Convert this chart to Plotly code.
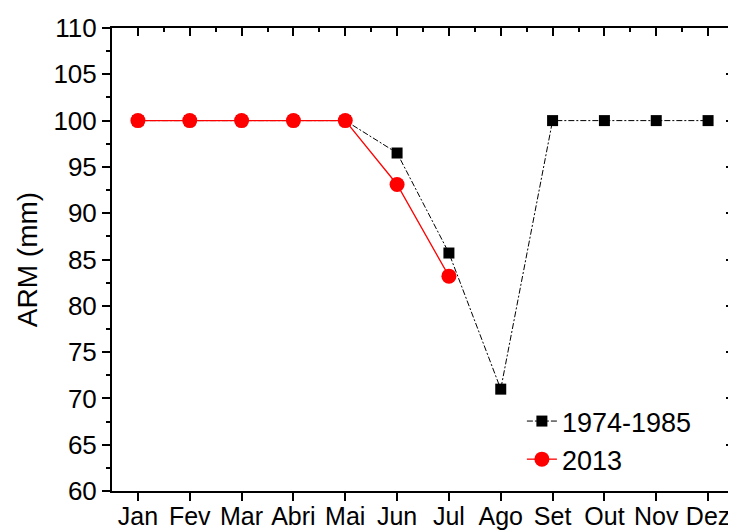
import plotly.graph_objects as go

months = ["Jan", "Fev", "Mar", "Abri", "Mai", "Jun", "Jul", "Ago", "Set", "Out", "Nov", "Dez"]
serie_1974_1985 = [100, 100, 100, 100, 100, 96.5, 85.7, 71.0, 100, 100, 100, 100]
serie_2013 = [100, 100, 100, 100, 100, 93.1, 83.2]
y_ticks = list(range(60, 111, 5))

FONT = "Liberation Sans, Arial, sans-serif"
xs = list(range(len(months)))

fig = go.Figure()
fig.add_trace(go.Scatter(
    x=xs, y=serie_1974_1985, name="1974-1985", mode="lines+markers",
    line=dict(color="black", width=1, dash="6px,2px,2px,2px"),
    marker=dict(symbol="square", size=11, color="black"),
    legendgroup="a",
))
fig.add_trace(go.Scatter(
    x=xs[:len(serie_2013)], y=serie_2013, name="2013", mode="lines+markers",
    line=dict(color="red", width=1.3),
    marker=dict(symbol="circle", size=15, color="red"),
    legendgroup="b",
))
# invisible trace for mirrored axes
fig.add_trace(go.Scatter(x=[xs[0]], y=[y_ticks[0]], xaxis="x2", yaxis="y2",
                         mode="markers", marker=dict(opacity=0), showlegend=False, hoverinfo="skip"))

fig.update_layout(
    width=728, height=524,
    margin=dict(l=104, r=2, t=20, b=41),
    paper_bgcolor="white", plot_bgcolor="white",
    font=dict(family=FONT, color="black"),
    showlegend=True,
    legend=dict(x=0.659, y=0.203, xanchor="left", yanchor="top",
                font=dict(size=27, family=FONT), bgcolor="rgba(0,0,0,0)",
                traceorder="grouped", tracegroupgap=0),
    xaxis=dict(
        range=[-0.5, 11.5], tickmode="array", tickvals=xs, ticktext=months,
        showline=True, linecolor="black", linewidth=2, mirror=False,
        ticks="outside", ticklen=8, tickwidth=2, tickcolor="black",
        ticklabelstandoff=-6,
        tickfont=dict(size=25, family=FONT), showgrid=False, zeroline=False,
        automargin=False,
    ),
    yaxis=dict(
        range=[60, 110], tickmode="array", tickvals=y_ticks,
        showline=True, linecolor="black", linewidth=2,
        ticks="outside", ticklen=8, tickwidth=2, tickcolor="black",
        minor=dict(ticks="outside", ticklen=4, tickwidth=1.5, dtick=2.5, tick0=60, tickcolor="black"),
        tickfont=dict(size=26, family=FONT), showgrid=False, zeroline=False,
        title=dict(text="ARM (mm)", font=dict(size=28, family=FONT), standoff=8),
        automargin=False,
    ),
    xaxis2=dict(
        overlaying="x", side="top", range=[-0.5, 11.5], tickmode="array", tickvals=xs,
        showticklabels=False, showline=True, linecolor="black", linewidth=2,
        ticks="inside", ticklen=8, tickwidth=2, tickcolor="black",
        minor=dict(ticks="inside", ticklen=4, tickwidth=1.5, dtick=1, tick0=-0.5, tickcolor="black"),
        showgrid=False, zeroline=False, automargin=False,
    ),
    yaxis2=dict(
        overlaying="y", side="right", range=[60, 110], tickmode="array", tickvals=y_ticks,
        showticklabels=False, showline=True, linecolor="black", linewidth=2,
        ticks="inside", ticklen=8, tickwidth=2, tickcolor="black",
        minor=dict(ticks="inside", ticklen=4, tickwidth=1.5, dtick=2.5, tick0=60, tickcolor="black"),
        showgrid=False, zeroline=False, automargin=False,
    ),
)

fig.write_html("out.html")
